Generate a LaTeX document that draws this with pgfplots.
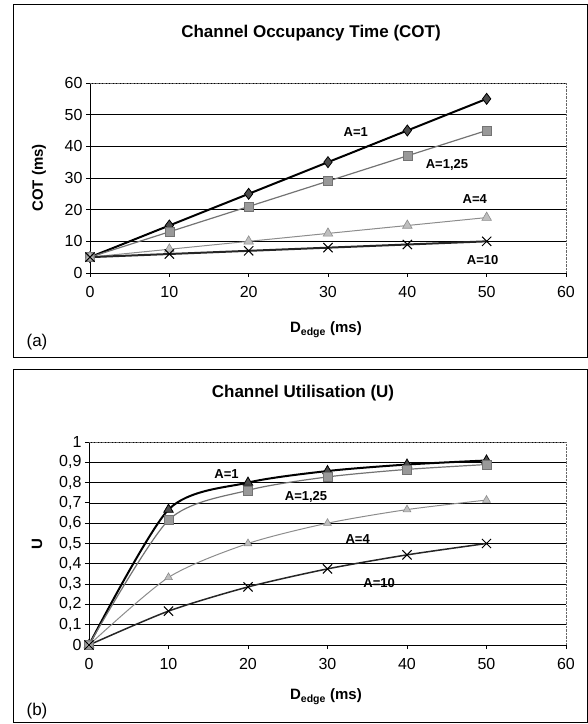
\documentclass[border=0pt]{standalone}
\usepackage{fontspec}
\setmainfont{Liberation Sans}
\usepackage{pgfplots}
\pgfplotsset{compat=1.18}

\tikzset{lbl/.style={font=\fontsize{13}{13}\selectfont\bfseries}}
\pgfplotsset{
  panel/.style={
    scale only axis,
    axis lines*=left,
    axis line style={black, line width=0.8pt},
    xmin=0, xmax=60, xtick={0,10,...,60},
    tick align=outside, major tick length=4pt,
    tick style={black, line width=0.8pt},
    ymajorgrids, grid style={black, line width=0.6pt},
    tick label style={font=\fontsize{16}{16}\selectfont},
    xticklabel style={yshift=-6pt},
    /pgf/number format/assume math mode=true,
    clip=false,
  },
  a1/.style={black, line width=2pt, mark=diamond*, mark size=5.5pt, mark options={fill=black!70, draw=black, line width=0.8pt}},
  a125/.style={black!55, line width=1.2pt, mark=square*, mark size=4.5pt, mark options={fill=black!40, draw=black!55, line width=0.6pt}},
  a4/.style={black!45, line width=1pt, mark=triangle*, mark size=5.5pt, mark options={fill=black!25, draw=black!45, line width=0.6pt}},
  a10/.style={black!85, line width=2pt, mark=x, mark size=6.5pt, mark options={black, line width=1pt}},
}

\begin{document}
\begin{tikzpicture}[x=1pt, y=1pt]
\useasboundingbox (0,0) rectangle (588,724);
% panel frames
\draw[black, line width=1pt] (13,366) rectangle (587,719);
\draw[black, line width=1pt] (13,1) rectangle (587,354);

% (a) COT
\begin{axis}[panel, at={(90pt,451pt)}, anchor=south west,
  width=476pt, height=190pt,
  ymin=0, ymax=60, ytick={0,10,...,60}]
\draw[black!60, densely dotted] (rel axis cs:0,1) -- (rel axis cs:1,1) -- (rel axis cs:1,0);
\addplot[a1] coordinates {(0,5) (10,15) (20,25) (30,35) (40,45) (50,55)};
\addplot[a125] coordinates {(0,5) (10,13) (20,21) (30,29) (40,37) (50,45)};
\addplot[a4] coordinates {(0,5) (10,7.5) (20,10) (30,12.5) (40,15) (50,17.5)};
\addplot[a10] coordinates {(0,5) (10,6) (20,7) (30,8) (40,9) (50,10)};
\node[lbl] at (axis cs:33.5,44.5) {A=1};
\node[lbl] at (axis cs:45,34) {A=1,25};
\node[lbl] at (axis cs:48.5,23.5) {A=4};
\node[lbl] at (axis cs:49.5,4) {A=10};
\end{axis}

% (b) U
\begin{axis}[panel, at={(89pt,79pt)}, anchor=south west,
  width=477pt, height=203pt,
  ymin=0, ymax=1, ytick={0,0.1,...,1.01},
  yticklabel style={/pgf/number format/.cd, use comma, fixed}]
\draw[black!60, densely dotted] (rel axis cs:0,1) -- (rel axis cs:1,1) -- (rel axis cs:1,0);
\addplot[a1, smooth, tension=0.45, mark=triangle*, mark size=5.5pt] coordinates {(0,0) (10,0.667) (20,0.8) (30,0.857) (40,0.889) (50,0.909)};
\addplot[a125, smooth, tension=0.45] coordinates {(0,0) (10,0.615) (20,0.762) (30,0.828) (40,0.865) (50,0.889)};
\addplot[a4, smooth, tension=0.45, mark size=4.5pt] coordinates {(0,0) (10,0.333) (20,0.5) (30,0.6) (40,0.667) (50,0.714)};
\addplot[a10, smooth, tension=0.45, line width=1.5pt] coordinates {(0,0) (10,0.167) (20,0.286) (30,0.375) (40,0.444) (50,0.5)};
\node[lbl] at (axis cs:17.3,0.84) {A=1};
\node[lbl] at (axis cs:27.3,0.73) {A=1,25};
\node[lbl] at (axis cs:33.8,0.52) {A=4};
\node[lbl] at (axis cs:36.5,0.305) {A=10};
\end{axis}

% titles and labels
\node[font=\fontsize{17}{17}\selectfont\bfseries] at (311,691) {Channel Occupancy Time (COT)};
\node[font=\fontsize{17}{17}\selectfont\bfseries] at (303,331) {Channel Utilisation (U)};
\node[font=\fontsize{15}{15}\selectfont\bfseries] at (326,394) {D\textsubscript{edge} (ms)};
\node[font=\fontsize{15}{15}\selectfont\bfseries] at (326,27) {D\textsubscript{edge} (ms)};
\node[font=\fontsize{15}{15}\selectfont\bfseries, rotate=90] at (39,546) {COT (ms)};
\node[font=\fontsize{15}{15}\selectfont\bfseries, rotate=90] at (37,180) {U};
\node[font=\fontsize{17}{17}\selectfont] at (37,382) {(a)};
\node[font=\fontsize{17}{17}\selectfont] at (37,13) {(b)};
\end{tikzpicture}
\end{document}
